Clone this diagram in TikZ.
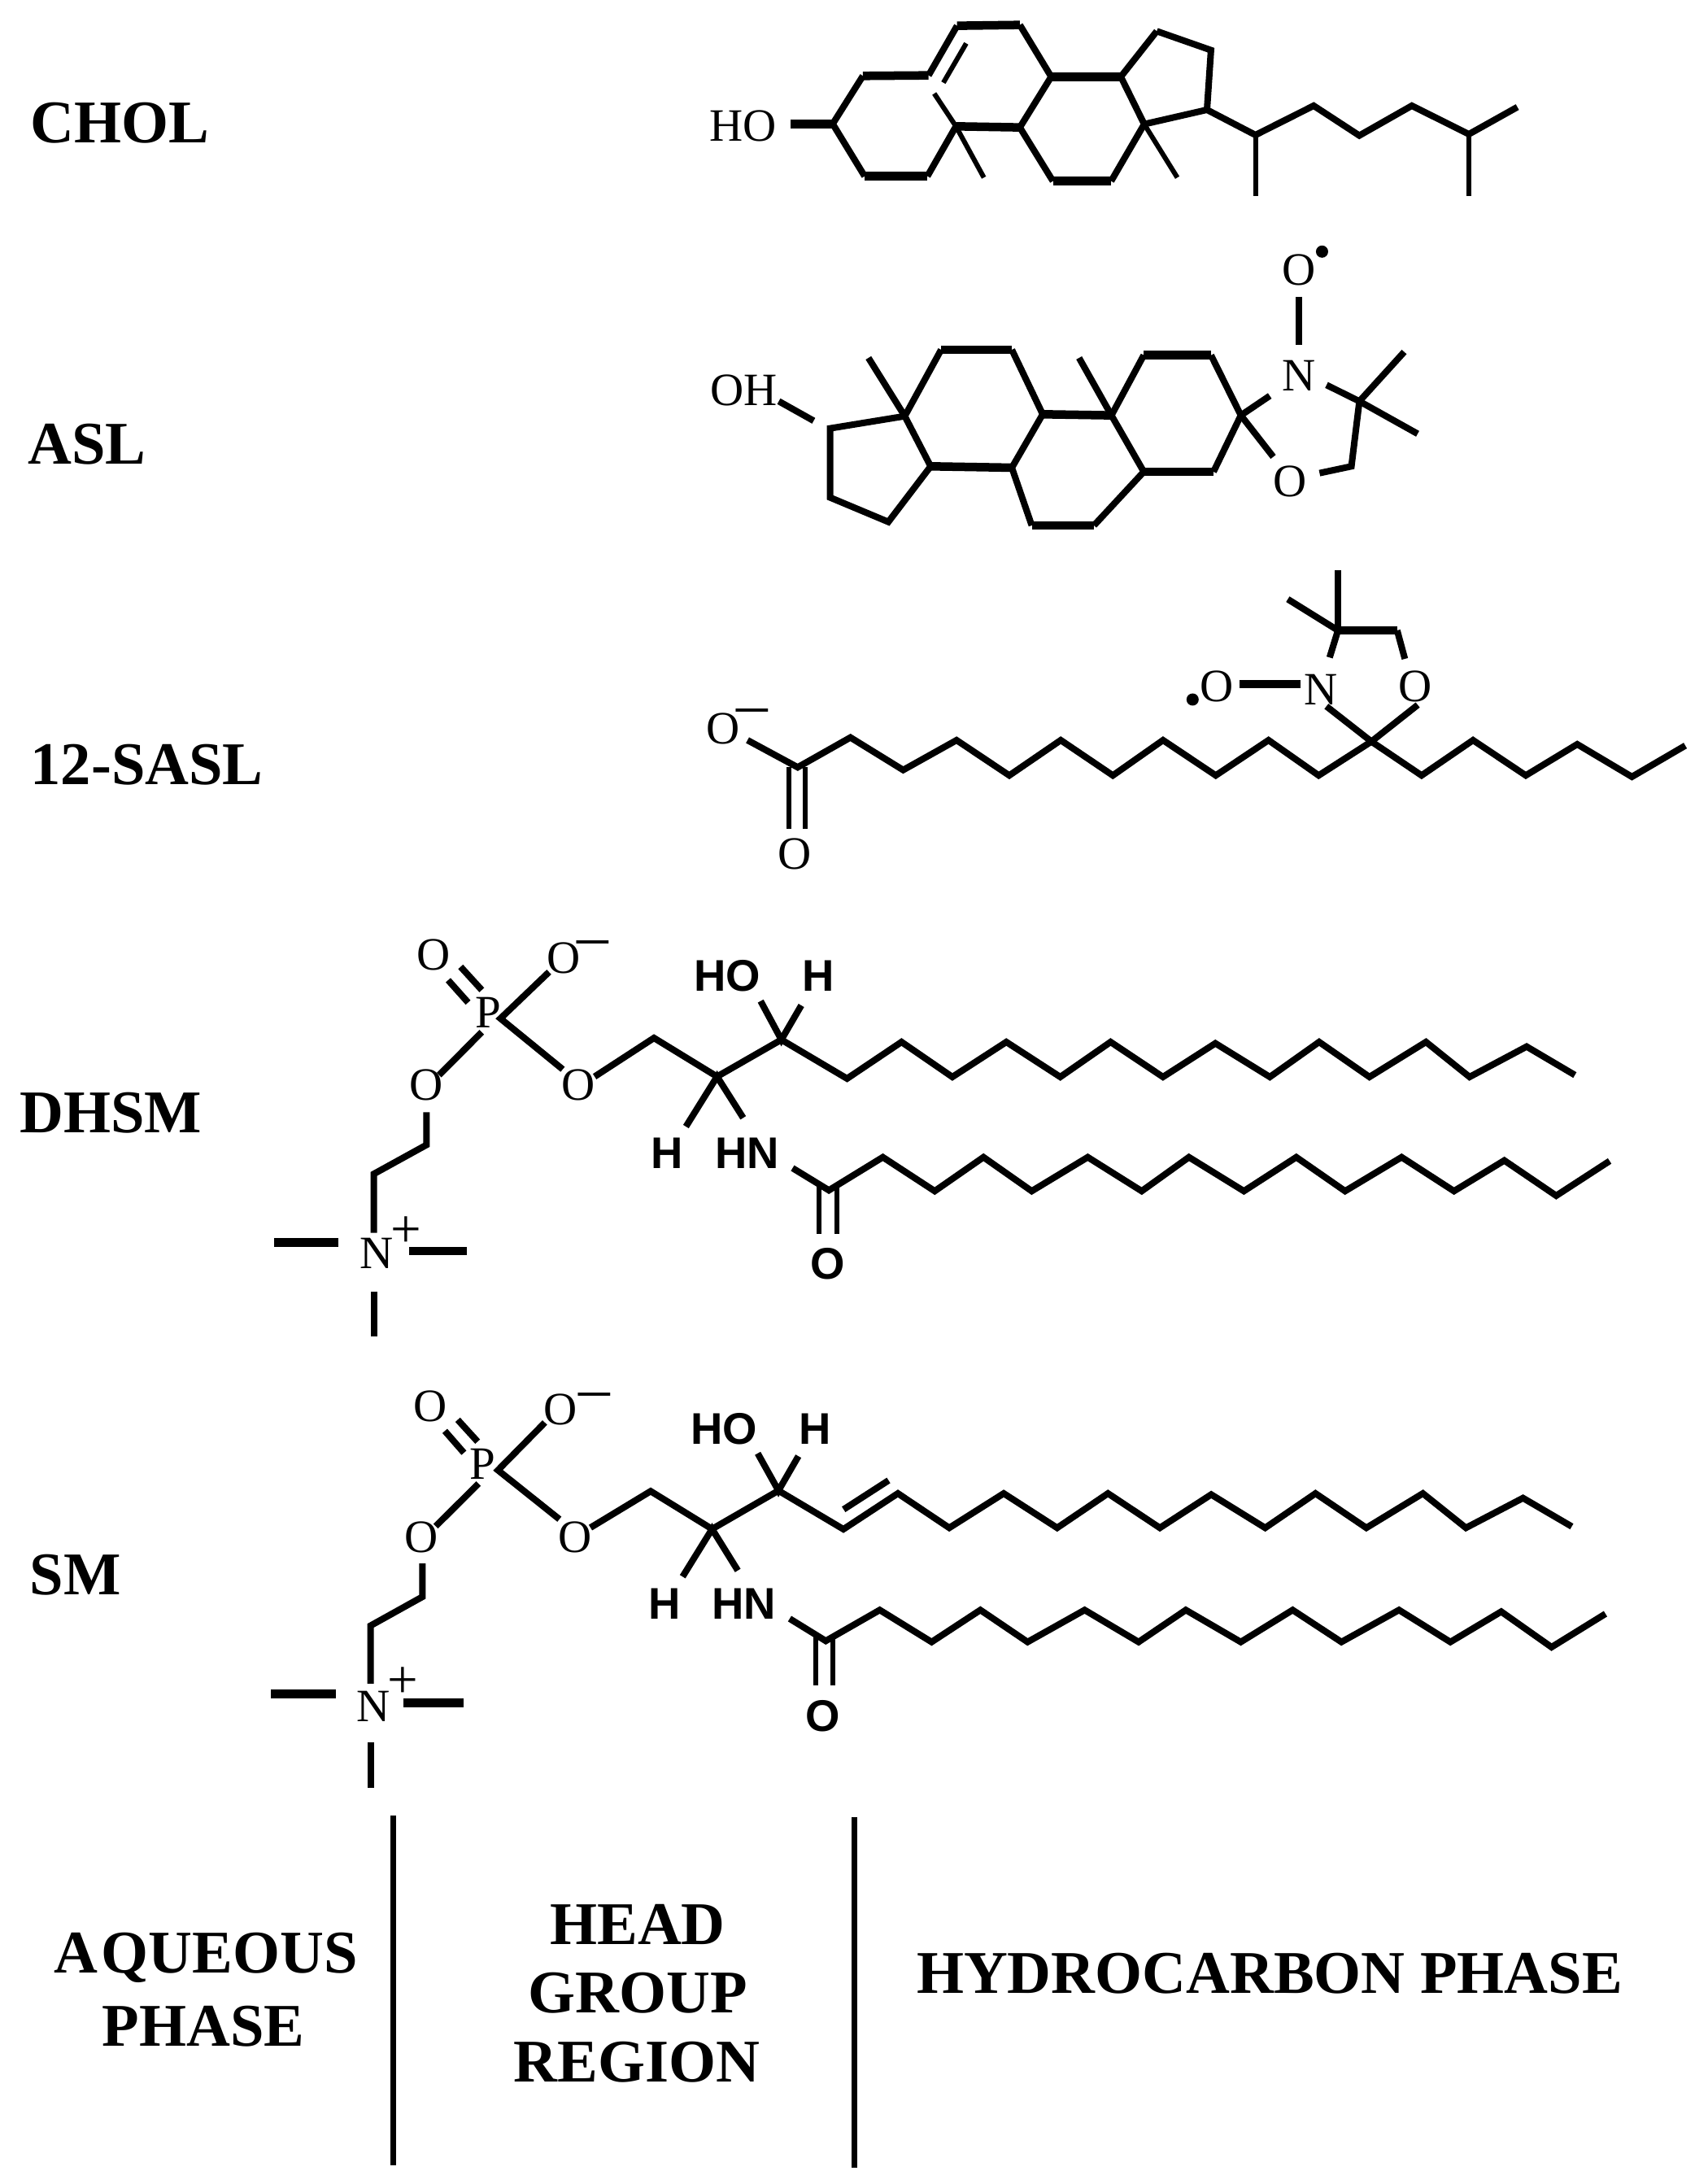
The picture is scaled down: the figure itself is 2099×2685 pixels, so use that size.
\documentclass[tikz,border=0pt]{standalone}
\usepackage{fontspec}
\setmainfont{Liberation Serif}
\newfontfamily\arialfont{Liberation Sans}
\newcommand{\pts}[2]{\foreach \n/\x/\y in {#2} \coordinate (#1\n) at (\x,\y);}
\newcommand{\chain}[2]{\foreach[count=\i] \x/\y in {#2} \coordinate (#1\i) at (\x,\y);}
\tikzset{
  bond/.style={draw=black,line width=0.08cm,line cap=butt,line join=miter},
  thinbond/.style={bond,line width=0.06cm},
  fatbond/.style={bond,line width=0.105cm},
  heading/.style={inner sep=0,font=\fontsize{21.2}{25}\selectfont\bfseries,align=center},
  atom/.style={inner sep=0,font=\fontsize{16.2}{18}\selectfont},
  satom/.style={inner sep=0,font=\arialfont\fontsize{15.5}{18}\selectfont\bfseries},
  plussign/.style={inner sep=0,yshift=-0.03cm,font=\fontsize{19}{20}\selectfont},
  minussign/.style={inner sep=0,yshift=-0.07cm,font=\fontsize{22}{24}\selectfont},
  radical/.style={circle,fill=black,inner sep=0,minimum size=0.15cm},
  divider/.style={draw=black,line width=0.07cm}
}
\begin{document}
\begin{tikzpicture}[x=0.01cm,y=-0.01cm]
\useasboundingbox (0,0) rectangle (2099,2685);

% ---- headings
\node[heading,anchor=west] (lchol) at (37,151) {CHOL};
\node[heading,anchor=west] (lasl) at (34,546) {ASL};
\node[heading,anchor=west] (lsasl) at (37,940) {12-SASL};
\node[heading,anchor=west] (ldhsm) at (24,1368) {DHSM};
\node[heading,anchor=west] (lsm) at (36,1936) {SM};
\node[heading] (laq) at (253,2407) {A\kern0.06em QUEOUS};
\node[heading] (lph) at (250,2491) {PHASE};
\node[heading] (lhe) at (784,2366) {HEAD};
\node[heading] (lgr) at (784,2450) {GROUP};
\node[heading] (lre) at (783,2535) {REGION};
\node[heading] (lhy) at (1561,2426) {HYDROCARBON PHASE};

% ---- dividers
\coordinate (d1a) at (483,2232); \coordinate (d1b) at (483,2662);
\coordinate (d2a) at (1050,2234); \coordinate (d2b) at (1050,2665);
\draw[divider] (d1a) -- (d1b);
\draw[divider] (d2a) -- (d2b);

% ---- CHOL
\begin{scope}[shift={(840,0)},xscale=0.7015,yscale=0.3333]
\node[atom] (cho) at (105,465) {HO};
\pts{c}{h/188/457,1/262/457,2/315/280,3/430/278,4/480/95,5/590/92,6/645/283,7/767/283,8/830/115,9/925/185,10/918/405,11/808/458,12/590/470,13/478/466,14/440/345,15/318/650,16/428/650,17/527/655,18/648/668,19/750/668,20/866/655,21/1003/498,22/1003/722,23/1105/390,24/1185/500,25/1277/390,26/1377/495,27/1377/722,28/1462/395,29/496/160,30/456/305}
\end{scope}
\draw[fatbond] (ch) -- (c1);
\draw[bond] (c1) -- (c2);
\draw[fatbond] (c2) -- (c3);
\draw[bond] (c3) -- (c4);
\draw[fatbond] (c4) -- (c5);
\draw[bond] (c5) -- (c6) -- (c12);
\draw[fatbond] (c6) -- (c7);
\draw[bond] (c7) -- (c8);
\draw[bond] (c8) -- (c9) -- (c10) -- (c11) -- (c7);
\draw[fatbond] (c12) -- (c13);
\draw[thinbond] (c13) -- (c14);
\draw[bond] (c1) -- (c15);
\draw[fatbond] (c15) -- (c16);
\draw[bond] (c16) -- (c13);
\draw[thinbond] (c13) -- (c17);
\draw[bond] (c12) -- (c18);
\draw[fatbond] (c18) -- (c19);
\draw[bond] (c19) -- (c11);
\draw[thinbond] (c11) -- (c20);
\draw[bond] (c10) -- (c21) -- (c23) -- (c24) -- (c25) -- (c26) -- (c28);
\draw[thinbond] (c21) -- (c22);
\draw[thinbond] (c26) -- (c27);
\draw[thinbond] (c29) -- (c30);

% ---- ASL
\begin{scope}[shift={(840,280)},xscale=0.6122,yscale=0.3333]
\node[atom] (aoh) at (122,600) {OH};
\node[atom] (aotop) at (1236,155) {O};
\node[atom] (an) at (1236,545) {N};
\node[atom] (aobot) at (1218,935) {O};
\node[radical] (adot) at (1283,88) {};
\pts{a}{p/192/640,q/262/712,1/295/740,2/445/695,3/497/880,4/412/1085,5/295/995,6/518/450,7/660/450,8/722/688,9/860/692,10/925/470,11/1060/470,12/1120/692,13/1065/900,14/925/900,15/660/885,16/700/1098,17/825/1098,18/372/480,19/795/480,20/1178/620,21/1185/845,22/1236/255,23/1236/432,24/1292/580,25/1358/640,26/1448/458,27/1475/760,28/1342/880,29/1278/905}
\end{scope}
\draw[bond] (ap) -- (aq);
\draw[bond] (a1) -- (a2) -- (a3) -- (a4) -- (a5) -- cycle;
\draw[bond] (a2) -- (a18);
\draw[bond] (a2) -- (a6);
\draw[fatbond] (a6) -- (a7);
\draw[bond] (a7) -- (a8);
\draw[fatbond] (a8) -- (a9);
\draw[bond] (a9) -- (a10);
\draw[fatbond] (a10) -- (a11);
\draw[bond] (a11) -- (a12) -- (a13);
\draw[fatbond] (a13) -- (a14);
\draw[bond] (a14) -- (a9);
\draw[bond] (a9) -- (a19);
\draw[bond] (a8) -- (a15);
\draw[fatbond] (a15) -- (a3);
\draw[bond] (a15) -- (a16);
\draw[fatbond] (a16) -- (a17);
\draw[bond] (a17) -- (a14);
\draw[bond] (a12) -- (a20);
\draw[bond] (a12) -- (a21);
\draw[bond] (a22) -- (a23);
\draw[bond] (a24) -- (a25) -- (a26);
\draw[bond] (a25) -- (a27);
\draw[bond] (a25) -- (a28) -- (a29);

% ---- 12-SASL
\begin{scope}[shift={(840,680)},xscale=0.7908,yscale=0.3333]
\node[atom] (so1) at (62,648) {O};
\node[minussign] (sminus) at (107,585) {–};
\node[atom] (so2) at (173,1110) {O};
\node[atom] (sol) at (830,493) {O};
\node[atom] (sn) at (992,505) {N};
\node[atom] (sor) at (1138,493) {O};
\node[radical] (sdot) at (792,540) {};
\chain{sc}{178/790,260/680,342/800,425/690,507/820,587/690,668/820,746/690,828/820,910/690,988/820,1070/695,1148/820,1228/690,1310/820,1390/705,1475/825,1558/710}
\pts{s}{a/100/690,b/165/790,c/165/1018,d/190/790,e/190/1018,f/1000/565,g/1142/560,h/865/483,i/960/483,j/1018/285,k/1018/62,l/940/170,m/1110/285,n/1005/385,o/1122/390}
\end{scope}
\draw[bond] (sa) -- (sc1) foreach \i in {2,...,18} {-- (sc\i)};
\draw[thinbond] (sb) -- (sc);
\draw[thinbond] (sd) -- (se);
\draw[bond] (sf) -- (sc12) -- (sg);
\draw[fatbond] (sh) -- (si);
\draw[bond] (sj) -- (sk);
\draw[bond] (sj) -- (sl);
\draw[fatbond] (sj) -- (sm);
\draw[bond] (sj) -- (sn);
\draw[bond] (sm) -- (so);

% ---- DHSM
\begin{scope}[shift={(300,1120)},xscale=0.5102,yscale=0.3571]
\node[atom] (do1) at (456,152) {O};
\node[atom] (do2) at (770,163) {O};
\node[minussign] (dminus) at (840,110) {–};
\node[atom] (dp) at (588,350) {P};
\node[atom] (do3) at (440,600) {O};
\node[atom] (do4) at (805,600) {O};
\node[satom] (dho) at (1165,222) {HO};
\node[satom] (dh1) at (1385,222) {H};
\node[satom] (dh2) at (1020,833) {H};
\node[satom] (dhn) at (1213,833) {HN};
\node[satom] (do5) at (1407,1215) {O};
\node[atom] (dnn) at (320,1178) {N};
\node[plussign] (dplus) at (390,1097) {+};
\pts{d}{a/492/238,b/540/315,c/522/192,e/573/272,f/618/370,g/735/210,h/768/545,i/573/417,j/470/565,k/845/570,l/988/437,m/1140/570,n/1295/443,o/1245/310,q/1343/325,r/1065/742,s/1203/712,t/1322/885,u/1385/950,v/1385/1112,w/1428/950,x/1428/1112,y/440/693,z/440/805,A/313/905,B/313/1108,C/73/1141,D/228/1141,E/398/1170,F/538/1170,G/313/1310,H/313/1465}
\end{scope}
\begin{scope}[shift={(1000,1220)},xscale=0.6378,yscale=0.3333]
\chain{du}{65/318,170/183,268/312,372/183,476/312,573/183,674/312,775/188,880/312,975/183,1072/312,1181/183,1265/312,1375/200,1468/305}
\chain{dl}{30/730,134/608,234/733,328/608,421/733,529/608,633/733,724/608,830/733,931/608,1025/733,1134/608,1235/733,1332/620,1432/750,1535/622}
\end{scope}
\draw[bond] (da) -- (db);
\draw[bond] (dc) -- (de);
\draw[bond] (dg) -- (df) -- (dh);
\draw[bond] (di) -- (dj);
\draw[bond] (dk) -- (dl) -- (dm) -- (dn) -- (du1) foreach \i in {2,...,15} {-- (du\i)};
\draw[bond] (do) -- (dn) -- (dq);
\draw[bond] (dr) -- (dm) -- (ds);
\draw[bond] (dt) -- (dl1) foreach \i in {2,...,16} {-- (dl\i)};
\draw[thinbond] (du) -- (dv);
\draw[thinbond] (dw) -- (dx);
\draw[bond] (dy) -- (dz) -- (dA) -- (dB);
\draw[fatbond] (dC) -- (dD);
\draw[fatbond] (dE) -- (dF);
\draw[bond] (dG) -- (dH);

% ---- SM
\begin{scope}[shift={(300,1680)},xscale=0.5102,yscale=0.3444]
\node[atom] (mo1) at (448,143) {O};
\node[atom] (mo2) at (762,155) {O};
\node[minussign] (mminus) at (844,103) {–};
\node[atom] (mp) at (575,348) {P};
\node[atom] (mo3) at (428,608) {O};
\node[atom] (mo4) at (797,608) {O};
\node[satom] (mho) at (1157,222) {HO};
\node[satom] (mh1) at (1377,222) {H};
\node[satom] (mh2) at (1013,848) {H};
\node[satom] (mhn) at (1205,848) {HN};
\node[satom] (mo5) at (1395,1248) {O};
\node[atom] (mnn) at (312,1212) {N};
\node[plussign] (mplus) at (382,1120) {+};
\pts{m}{a/484/230,b/530/308,c/515/190,e/563/268,f/612/370,g/725/200,h/760/545,i/565/418,j/462/570,k/835/575,l/980/445,m/1128/580,n/1288/443,o/1238/310,q/1336/320,r/1057/750,s/1190/728,t/1315/900,u/1378/965,v/1378/1138,w/1420/965,x/1420/1138,y/430/703,z/430/822,A/305/925,B/305/1132,C/65/1168,D/221/1168,E/385/1200,F/530/1200,G/305/1342,H/305/1505,I/1445/510}
\end{scope}
\begin{scope}[shift={(1000,1780)},xscale=0.6378,yscale=0.3333]
\coordinate (mJ) at (145,120);
\chain{mu}{58/300,163/168,262/295,367/168,470/295,568/168,668/295,767/172,871/295,968/168,1066/295,1175/168,1258/295,1368/185,1462/290}
\chain{ml}{24/712,128/598,228/716,322/598,413/716,523/598,627/716,718/598,824/716,924/598,1018/716,1129/598,1228/716,1326/604,1423/735,1527/612}
\end{scope}
\draw[bond] (ma) -- (mb);
\draw[bond] (mc) -- (me);
\draw[bond] (mg) -- (mf) -- (mh);
\draw[bond] (mi) -- (mj);
\draw[bond] (mk) -- (ml) -- (mm) -- (mn) -- (mu1) foreach \i in {2,...,15} {-- (mu\i)};
\draw[bond] (mI) -- (mJ);
\draw[bond] (mo) -- (mn) -- (mq);
\draw[bond] (mr) -- (mm) -- (ms);
\draw[bond] (mt) -- (ml1) foreach \i in {2,...,16} {-- (ml\i)};
\draw[thinbond] (mu) -- (mv);
\draw[thinbond] (mw) -- (mx);
\draw[bond] (my) -- (mz) -- (mA) -- (mB);
\draw[fatbond] (mC) -- (mD);
\draw[fatbond] (mE) -- (mF);
\draw[bond] (mG) -- (mH);
\end{tikzpicture}
\end{document}
